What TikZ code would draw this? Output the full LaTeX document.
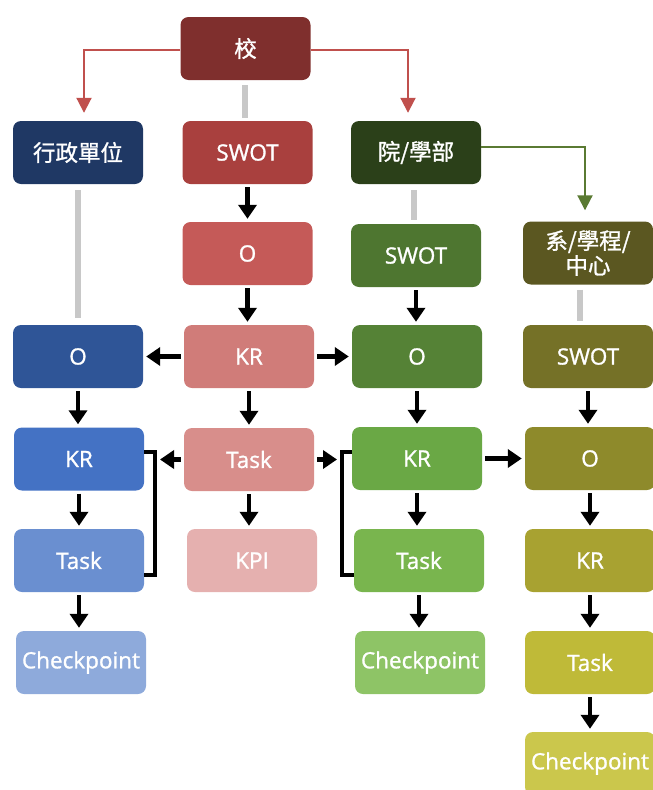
\documentclass[tikz,border=0pt]{standalone}
\usepackage{fontspec}
\setmainfont{Open Sans}[FakeBold=1.2]
\newfontfamily\cjk{Noto Sans CJK TC}[FakeBold=1.2]
\usetikzlibrary{arrows.meta}
\definecolor{cXiao}{HTML}{7F2F2D}
\definecolor{cAdm}{HTML}{1F3864}
\definecolor{cSWr}{HTML}{A9403E}
\definecolor{cYuan}{HTML}{2B4019}
\definecolor{cXi}{HTML}{5B5721}
\definecolor{cOr}{HTML}{C55A58}
\definecolor{cSWg}{HTML}{4E7630}
\definecolor{cOb}{HTML}{2F5597}
\definecolor{cKRr}{HTML}{D07C79}
\definecolor{cOg}{HTML}{558236}
\definecolor{cSWo}{HTML}{757127}
\definecolor{cKRb}{HTML}{4472C4}
\definecolor{cTr}{HTML}{D88E8B}
\definecolor{cKRg}{HTML}{6AA845}
\definecolor{cOo}{HTML}{8E8A2B}
\definecolor{cTb}{HTML}{6A8FD0}
\definecolor{cKPI}{HTML}{E5B0AF}
\definecolor{cTg}{HTML}{79B54E}
\definecolor{cKRo}{HTML}{A8A231}
\definecolor{cCb}{HTML}{8EAADB}
\definecolor{cCg}{HTML}{8EC466}
\definecolor{cTo}{HTML}{BFBA38}
\definecolor{cCo}{HTML}{CBC74C}
\definecolor{cRedLine}{HTML}{C0504D}
\definecolor{cGreenLine}{HTML}{5A7A32}
\definecolor{cGray}{HTML}{C8C8C8}
\begin{document}
\begin{tikzpicture}[x=1pt,y=-1pt,
  box/.style={rounded corners=8pt, minimum width=130pt, minimum height=63pt,
    inner sep=0pt, text=white, align=center,
    font=\fontsize{22.5}{25}\selectfont},
  blk/.style={line width=4.5pt, draw=black,
    -{Triangle[width=18pt,length=14pt]}, shorten <=3pt, shorten >=3pt},
  redarr/.style={line width=2pt, draw=cRedLine,
    -{Triangle[width=15pt,length=15pt]}},
  grnarr/.style={line width=2pt, draw=cGreenLine,
    -{Triangle[width=15pt,length=15pt]}},
  grayline/.style={line width=6pt, draw=cGray},
  brk/.style={line width=4.5pt, draw=black}]
\useasboundingbox (0,0) rectangle (653,790);
% top
\node[box, fill=cXiao] (xiao) at (245.5,48.5) {\cjk 校};
% column blue
\node[box, fill=cAdm] (adm) at (78,152.5) {\cjk 行政單位};
\node[box, fill=cOb] (Ob) at (78,356.5) {O};
\node[box, fill=cKRb] (KRb) at (79,459) {KR};
\node[box, fill=cTb] (Tb) at (79,560.5) {Task};
\node[box, fill=cCb] (Cb) at (81,662.5) {Checkpoint};
% column red
\node[box, fill=cSWr] (SWr) at (247.5,152.5) {SWOT};
\node[box, fill=cOr] (Or) at (247.5,253.5) {O};
\node[box, fill=cKRr] (KRr) at (249,356.5) {KR};
\node[box, fill=cTr] (Tr) at (249,459.5) {Task};
\node[box, fill=cKPI] (KPI) at (252,560.5) {KPI};
% column green
\node[box, fill=cYuan] (yuan) at (416,152.5) {\cjk 院/學部};
\node[box, fill=cSWg] (SWg) at (416,255.5) {SWOT};
\node[box, fill=cOg] (Og) at (417,356.5) {O};
\node[box, fill=cKRg] (KRg) at (417,458.5) {KR};
\node[box, fill=cTg] (Tg) at (419,560.5) {Task};
\node[box, fill=cCg] (Cg) at (420,662.5) {Checkpoint};
% column olive
\node[box, fill=cXi] (xi) at (588,253) {\cjk 系/學程/\\\cjk 中心};
\node[box, fill=cSWo] (SWo) at (588,356.5) {SWOT};
\node[box, fill=cOo] (Oo) at (590,458.5) {O};
\node[box, fill=cKRo] (KRo) at (590,560.5) {KR};
\node[box, fill=cTo] (To) at (590,662.5) {Task};
\node[box, fill=cCo] (Co) at (590,763.5) {Checkpoint};
% coordinates for elbows
\coordinate (rl) at (84,50);
\coordinate (rr) at (408,50);
\coordinate (gr) at (585,147);
% red & green elbow arrows
\draw[redarr] (xiao.west |- rl) -- (rl) -- ([yshift=8pt]rl |- adm.north);
\draw[redarr] (xiao.east |- rr) -- (rr) -- ([yshift=8pt]rr |- yuan.north);
\draw[grnarr] (yuan.east |- gr) -- (gr) -- ([yshift=11pt]gr |- xi.north);
% gray lines
\draw[grayline, shorten <=5pt, shorten >=3pt] ([xshift=-0.5pt]xiao.south) -- ([xshift=-0.5pt]xiao.south |- SWr.north);
\draw[grayline, shorten <=6pt, shorten >=7pt] ([xshift=-0.5pt]adm.south) -- ([xshift=-0.5pt]adm.south |- Ob.north);
\draw[grayline, shorten <=6pt, shorten >=4pt] ([xshift=-2.5pt]yuan.south) -- ([xshift=-2.5pt]yuan.south |- SWg.north);
\draw[grayline, shorten <=5pt, shorten >=4pt] ([xshift=-8pt]xi.south) -- ([xshift=-8pt]xi.south |- SWo.north);
% black vertical arrows
\foreach \a/\b in {SWr/Or, Or/KRr, KRr/Tr, Tr/KPI, Ob/KRb, KRb/Tb, Tb/Cb,
  SWg/Og, Og/KRg, KRg/Tg, Tg/Cg, SWo/Oo, Oo/KRo, KRo/To, To/Co}
  \draw[blk] (\a.south) -- (\a.south |- \b.north);
% horizontal arrows
\draw[blk] (KRr.west) -- (KRr.west -| Ob.east);
\draw[blk] (KRr.east) -- (KRr.east -| Og.west);
\draw[blk] (KRg.east) -- (KRg.east -| Oo.west);
% brackets
\coordinate (bl) at (155,459.5);
\coordinate (br) at (342,459.5);
\draw[brk] (KRb.east |- 0,452) -- (bl |- 0,452) -- (bl |- 0,575) -- (Tb.east |- 0,575);
\draw[brk] (KRg.west |- 0,452) -- (br |- 0,452) -- (br |- 0,575) -- (Tg.west |- 0,575);
\draw[blk, shorten >=5pt] (Tr.west) -- (bl);
\draw[blk, shorten >=5pt] (Tr.east) -- (br);
\end{tikzpicture}
\end{document}
